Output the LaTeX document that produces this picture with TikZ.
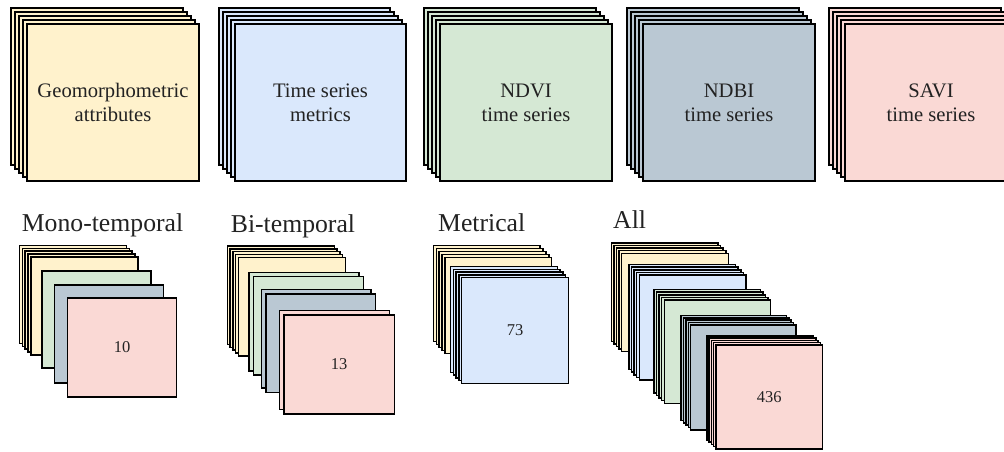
\documentclass[tikz,border=0pt]{standalone}
\usepackage{fontspec}
\setmainfont{Liberation Serif}
\definecolor{cyel}{HTML}{FFF2CC}
\definecolor{cblu}{HTML}{DAE8FC}
\definecolor{cgrn}{HTML}{D5E8D4}
\definecolor{cgry}{HTML}{BAC8D3}
\definecolor{cpnk}{HTML}{FAD9D5}
\definecolor{ctxt}{HTML}{222222}
% #1 x, #2 y (front top-left), #3 w, #4 h, #5 number of back layers, #6 offset, #7 colour, #8 style
\newcommand\backlayers[8]{%
  \foreach \k in {#5,...,1}{%
    \draw[#8,fill=#7] ({#1-\k*#6},{#2-\k*#6}) rectangle ++(#3,#4);}}
\tikzset{
  bigbox/.style={draw=black, line width=1.9pt, inner sep=0pt, outer sep=0pt,
    anchor=north west, align=center, text=ctxt,
    font=\fontsize{20.6}{24}\selectfont},
  biglay/.style={draw=black, line width=1.9pt},
  smallbox/.style={draw=black, line width=1.5pt, inner sep=0pt, outer sep=0pt,
    anchor=north west, align=center, text=ctxt,
    font=\fontsize{16.5}{19}\selectfont},
  smalllay/.style={draw=black, line width=1.5pt},
  grouplabel/.style={anchor=base west, inner sep=0pt, text=ctxt,
    font=\fontsize{25.7}{30}\selectfont}
}
\begin{document}
\begin{tikzpicture}[x=1pt,y=-1pt]
\useasboundingbox (0,0) rectangle (1004,451);
\fill[white] (0,0) rectangle (1004,451);
\clip (0,0) rectangle (1004,451);

% ---------- top row ----------
\backlayers{27}{24}{172}{157}{4}{4.1}{cyel}{biglay}
\node[bigbox, fill=cyel, minimum width=172pt, minimum height=157pt] (geo) at (27,24) {Geomorphometric\\attributes};
\backlayers{235}{24}{171}{157}{4}{4.1}{cblu}{biglay}
\node[bigbox, fill=cblu, minimum width=171pt, minimum height=157pt] (tsm) at (235,24) {Time series\\metrics};
\backlayers{440}{24}{172}{157}{4}{4.1}{cgrn}{biglay}
\node[bigbox, fill=cgrn, minimum width=172pt, minimum height=157pt] (ndvi) at (440,24) {NDVI\\time series};
\backlayers{643}{24}{172}{157}{4}{4.1}{cgry}{biglay}
\node[bigbox, fill=cgry, minimum width=172pt, minimum height=157pt] (ndbi) at (643,24) {NDBI\\time series};
\backlayers{845}{24}{172}{157}{4}{4.1}{cpnk}{biglay}
\node[bigbox, fill=cpnk, minimum width=172pt, minimum height=157pt] (savi) at (845,24) {SAVI\\time series};

% ---------- group labels ----------
\node[grouplabel] (lmono) at (21.7,231.7) {Mono-temporal};
\node[grouplabel] (lbi) at (230.7,232) {Bi-temporal};
\node[grouplabel] (lmet) at (438,231) {Metrical};
\node[grouplabel] (lall) at (613,228.5) {All};

% ---------- Mono-temporal ----------
\backlayers{31}{257}{107}{98}{4}{2.9}{cyel}{smalllay}
\node[smallbox, fill=cyel, minimum width=107pt, minimum height=98pt] (m1) at (31,257) {};
\node[smallbox, fill=cgrn, minimum width=109pt, minimum height=97pt] (m2) at (42,271) {};
\node[smallbox, fill=cgry, minimum width=109pt, minimum height=98pt] (m3) at (54.5,285) {};
\node[smallbox, fill=cpnk, minimum width=109pt, minimum height=99pt] (m4) at (67.5,298) {10};

% ---------- Bi-temporal ----------
\backlayers{238.5}{257.3}{107}{98.5}{4}{2.8}{cyel}{smalllay}
\node[smallbox, fill=cyel, minimum width=107pt, minimum height=98.5pt] (b1) at (238.5,257.3) {};
\backlayers{253.3}{276.7}{110}{98.3}{1}{4.2}{cgrn}{smalllay}
\node[smallbox, fill=cgrn, minimum width=110pt, minimum height=98.3pt] (b2) at (253.3,276.7) {};
\backlayers{266}{294}{109.7}{98.7}{1}{4.5}{cgry}{smalllay}
\node[smallbox, fill=cgry, minimum width=109.7pt, minimum height=98.7pt] (b3) at (266,294) {};
\backlayers{284}{315}{110.3}{99}{1}{4.7}{cpnk}{smalllay}
\node[smallbox, fill=cpnk, minimum width=110.3pt, minimum height=99pt] (b4) at (284,315) {13};

% ---------- Metrical ----------
\backlayers{445}{257.3}{106.7}{96}{4}{2.9}{cyel}{smalllay}
\node[smallbox, fill=cyel, minimum width=106.7pt, minimum height=96pt] (t1) at (445,257.3) {};
\backlayers{461.7}{277.7}{106.7}{105.7}{4}{2.75}{cblu}{smalllay}
\node[smallbox, fill=cblu, minimum width=106.7pt, minimum height=105.7pt] (t2) at (461.7,277.7) {73};

% ---------- All ----------
\backlayers{621.7}{253.3}{106.7}{98.4}{4}{2.6}{cyel}{smalllay}
\node[smallbox, fill=cyel, minimum width=106.7pt, minimum height=98.4pt] (a1) at (621.7,253.3) {};
\backlayers{639.3}{275}{106.7}{105}{4}{2.6}{cblu}{smalllay}
\node[smallbox, fill=cblu, minimum width=106.7pt, minimum height=105pt] (a2) at (639.3,275) {};
\backlayers{664.3}{300}{106.4}{103.3}{4}{2.6}{cgrn}{smalllay}
\node[smallbox, fill=cgrn, minimum width=106.4pt, minimum height=103.3pt] (a3) at (664.3,300) {};
\backlayers{690.7}{325}{105.3}{105}{4}{2.4}{cgry}{smalllay}
\node[smallbox, fill=cgry, minimum width=105.3pt, minimum height=105pt] (a4) at (690.7,325) {};
\backlayers{716}{345}{106.7}{104}{4}{2.3}{cpnk}{smalllay}
\node[smallbox, fill=cpnk, minimum width=106.7pt, minimum height=104pt] (a5) at (716,345) {436};
\end{tikzpicture}
\end{document}
